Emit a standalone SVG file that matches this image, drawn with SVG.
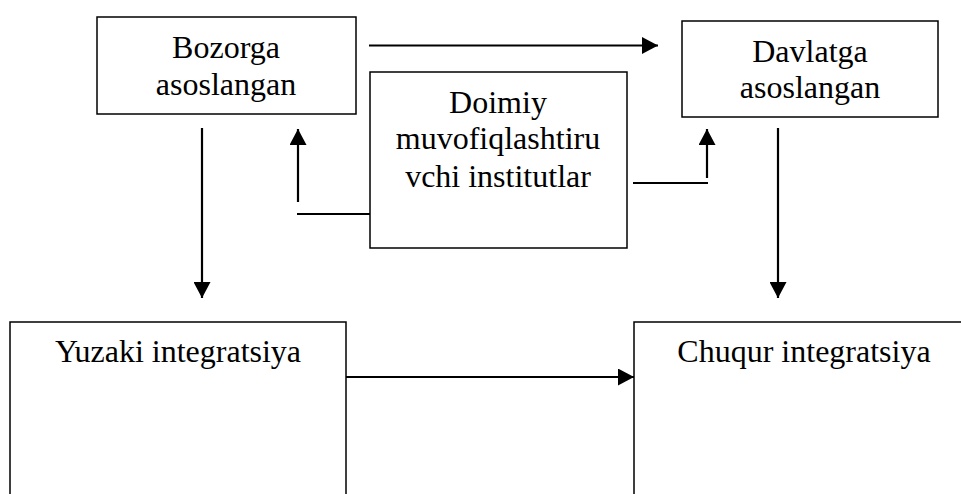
<svg xmlns="http://www.w3.org/2000/svg" width="961" height="494" viewBox="0 0 961 494">
<style>
.box{fill:#fff;stroke:#000;stroke-width:1.5}
.t{font-size:32px;fill:#000;text-anchor:middle}
.c{fill:none;stroke:#000;stroke-width:2.2}
.a{fill:none;stroke:#000;stroke-width:2.2;marker-end:url(#ah)}
</style>
<defs>
<marker id="ah" markerUnits="userSpaceOnUse" markerWidth="16" markerHeight="17" viewBox="0 0 16 17" refX="16" refY="8.5" orient="auto">
<path d="M0,0 L16,8.5 L0,17 Z" fill="#000"/>
</marker>
</defs>
<rect width="961" height="494" fill="#fff"/>
<g font-family="'Liberation Serif', 'DejaVu Serif', serif">
<g id="bozorga">
<rect class="box" x="97" y="17" width="259" height="97"/>
<text class="t" x="226" y="58">Bozorga</text>
<text class="t" x="226" y="95">asoslangan</text>
</g>
<g id="davlatga">
<rect class="box" x="682" y="21" width="256" height="96"/>
<text class="t" x="810" y="62">Davlatga</text>
<text class="t" x="810" y="98">asoslangan</text>
</g>
<g id="doimiy">
<rect class="box" x="370" y="72" width="257" height="176"/>
<text class="t" x="498" y="113">Doimiy</text>
<text class="t" x="498" y="149">muvofiqlashtiru</text>
<text class="t" x="498" y="187">vchi institutlar</text>
</g>
<g id="yuzaki">
<rect class="box" x="10" y="322" width="336" height="190"/>
<text class="t" x="178" y="362">Yuzaki integratsiya</text>
</g>
<g id="chuqur">
<rect class="box" x="634" y="322" width="340" height="190"/>
<text class="t" x="804" y="362">Chuqur integratsiya</text>
</g>
</g>
<g id="connectors">
<line class="a" x1="369" y1="45.5" x2="658" y2="45.5"/>
<line class="a" x1="202" y1="128" x2="202" y2="298"/>
<line class="a" x1="778" y1="128" x2="778" y2="298"/>
<line class="a" x1="346" y1="377" x2="634" y2="377"/>
<line class="c" x1="297" y1="214" x2="370" y2="214"/>
<line class="a" x1="298" y1="202" x2="298" y2="129"/>
<line class="c" x1="633" y1="183" x2="708" y2="183"/>
<line class="a" x1="707" y1="178" x2="707" y2="129"/>
</g>
</svg>
